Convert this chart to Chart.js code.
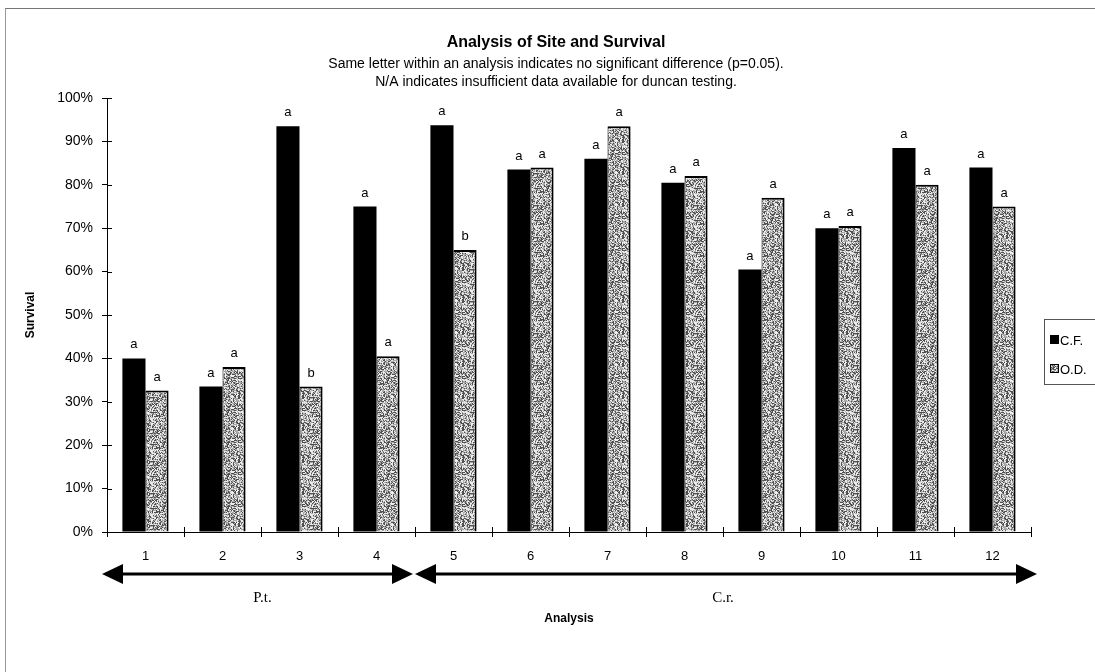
<!DOCTYPE html>
<html>
<head>
<meta charset="utf-8">
<script src="https://cdn.jsdelivr.net/npm/chart.js@4.4.1/dist/chart.umd.min.js"></script>
<style>
    body { margin: 0; background: #fff; }
    #wrap { position: relative; width: 1095px; height: 672px; }
    #frame { position: absolute; left: 5px; top: 8px; right: 0; bottom: 0;
             border-top: 1px solid #777; border-left: 1px solid #999; pointer-events: none; }
    canvas { position: absolute; left: 0; top: 0; }
</style>
</head>
<body>
<div id="wrap">
    <canvas id="survivalChart" width="1095" height="672"></canvas>
    <div id="frame"></div>
</div>
<script>
// Data
const analyses = ['1', '2', '3', '4', '5', '6', '7', '8', '9', '10', '11', '12'];
const cfSurvival = [40, 33.5, 93.5, 75, 93.7, 83.5, 86, 80.5, 60.5, 70, 88.5, 84];
const odSurvival = [32.6, 38, 33.5, 40.5, 65, 84, 93.5, 82, 77, 70.5, 80, 75];
const cfLetters = ['a', 'a', 'a', 'a', 'a', 'a', 'a', 'a', 'a', 'a', 'a', 'a'];
const odLetters = ['a', 'a', 'b', 'a', 'b', 'a', 'a', 'a', 'a', 'a', 'a', 'a'];
const groups = [
    { label: 'P.t.', from: 0, to: 3 },
    { label: 'C.r.', from: 4, to: 11 }
];
const yTicks = [0, 10, 20, 30, 40, 50, 60, 70, 80, 90, 100];

const titleText = 'Analysis of Site and Survival';
const subtitleLines = [
    'Same letter within an analysis indicates no significant difference (p=0.05).',
    'N/A indicates insufficient data available for duncan testing.'
];

const FONT = "'Liberation Sans', Arial, sans-serif";
Chart.defaults.font.family = FONT;
Chart.defaults.color = '#000';

// Grey stipple fill for the O.D. bars (fixed hash, not data)
function makeStipple() {
    const n = 32;
    const c = document.createElement('canvas');
    c.width = n;
    c.height = n;
    const g = c.getContext('2d');
    const img = g.createImageData(n, n);
    for (let y = 0; y < n; y++) {
        for (let x = 0; x < n; x++) {
            let h = (x * 374761393 + y * 668265263) | 0;
            h = Math.imul(h ^ (h >>> 13), 1274126177);
            h = ((h ^ (h >>> 16)) >>> 0) % 100;
            const v = h < 28 ? 80 : (h < 65 ? 168 : 236);
            const i = (y * n + x) * 4;
            img.data[i] = v;
            img.data[i + 1] = v;
            img.data[i + 2] = v;
            img.data[i + 3] = 255;
        }
    }
    g.putImageData(img, 0, 0);
    return g.createPattern(c, 'repeat');
}
const stipple = makeStipple();

// Extra drawing: titles, letters, tick crosses, arrows, legend
const decorations = {
    id: 'decorations',
    afterDatasetsDraw(chart) {
        const ctx = chart.ctx;
        const letterSets = [cfLetters, odLetters];
        ctx.save();
        ctx.font = '13px ' + FONT;
        ctx.fillStyle = '#000';
        ctx.textAlign = 'center';
        ctx.textBaseline = 'bottom';
        chart.data.datasets.forEach((ds, di) => {
            chart.getDatasetMeta(di).data.forEach((bar, i) => {
                ctx.fillText(letterSets[di][i], bar.x, bar.y - 7);
            });
        });
        ctx.restore();
    },
    afterDraw(chart) {
        const ctx = chart.ctx;
        const area = chart.chartArea;
        const x = chart.scales.x;
        const y = chart.scales.y;
        ctx.save();

        // title + subtitle
        const cx = 556;
        ctx.fillStyle = '#000';
        ctx.textAlign = 'center';
        ctx.textBaseline = 'middle';
        ctx.font = 'bold 16px ' + FONT;
        ctx.fillText(titleText, cx, 43);
        ctx.font = '14px ' + FONT;
        ctx.fillText(subtitleLines[0], cx, 64);
        ctx.fillText(subtitleLines[1], cx, 82);

        // inner half of tick marks
        ctx.strokeStyle = '#000';
        ctx.lineWidth = 1;
        ctx.beginPath();
        yTicks.forEach(v => {
            const py = Math.round(y.getPixelForValue(v)) + 0.5;
            ctx.moveTo(area.left, py);
            ctx.lineTo(area.left + 5, py);
        });
        for (let i = 0; i <= analyses.length; i++) {
            const px = Math.round(area.left + (area.right - area.left) * i / analyses.length) + 0.5;
            ctx.moveTo(px, area.bottom);
            ctx.lineTo(px, area.bottom - 5);
        }
        ctx.stroke();

        // group arrows
        const ay = 574;
        const half = (x.getPixelForValue(1) - x.getPixelForValue(0)) / 2;
        groups.forEach((gr, gi) => {
            let x0 = x.getPixelForValue(gr.from) - half;
            let x1 = x.getPixelForValue(gr.to) + half;
            x0 += gi === 0 ? -5 : 0;
            x1 += gi === groups.length - 1 ? 6 : -2;
            drawArrow(ctx, x0, x1, ay);
            ctx.font = '15px "Liberation Serif", "Times New Roman", serif';
            ctx.textBaseline = 'middle';
            ctx.fillText(gr.label, (x0 + x1) / 2 + (gi === 0 ? 5 : -3), 598);
        });

        // legend
        const lx = area.right + 13;
        const ly = 319;
        ctx.strokeStyle = '#555';
        ctx.lineWidth = 1;
        ctx.strokeRect(lx + 0.5, ly + 0.5, 60, 65);
        ctx.font = '13px ' + FONT;
        ctx.textAlign = 'left';
        chart.data.datasets.forEach((ds, di) => {
            const my = ly + 21 + di * 29;
            ctx.fillStyle = ds.backgroundColor;
            ctx.fillRect(lx + 6, my - 5, 9, 9);
            ctx.strokeStyle = '#000';
            ctx.strokeRect(lx + 6.5, my - 4.5, 8, 8);
            ctx.fillStyle = '#000';
            ctx.fillText(ds.label, lx + 16, my + 1);
        });
        ctx.restore();
    }
};

function drawArrow(ctx, x0, x1, yy) {
    const hl = 21;
    const hh = 10;
    ctx.fillStyle = '#000';
    ctx.fillRect(x0 + hl - 1, yy - 1.5, x1 - x0 - 2 * hl + 2, 3);
    ctx.beginPath();
    ctx.moveTo(x0, yy);
    ctx.lineTo(x0 + hl, yy - hh);
    ctx.lineTo(x0 + hl, yy + hh);
    ctx.closePath();
    ctx.fill();
    ctx.beginPath();
    ctx.moveTo(x1, yy);
    ctx.lineTo(x1 - hl, yy - hh);
    ctx.lineTo(x1 - hl, yy + hh);
    ctx.closePath();
    ctx.fill();
}

window.addEventListener('load', () => {
    const ctx = document.getElementById('survivalChart').getContext('2d');
    new Chart(ctx, {
        type: 'bar',
        data: {
            labels: analyses,
            datasets: [
                {
                    label: 'C.F.',
                    data: cfSurvival,
                    backgroundColor: '#000',
                    borderWidth: 0
                },
                {
                    label: 'O.D.',
                    data: odSurvival,
                    backgroundColor: stipple,
                    borderColor: '#000',
                    borderWidth: { top: 2, right: 2, left: 1, bottom: 0 },
                    borderSkipped: 'bottom'
                }
            ]
        },
        options: {
            responsive: false,
            animation: false,
            devicePixelRatio: 1,
            layout: {
                padding: { left: 20, top: 98, right: 64, bottom: 40 }
            },
            datasets: {
                bar: { categoryPercentage: 0.6, barPercentage: 1.0 }
            },
            scales: {
                x: {
                    grid: {
                        display: true,
                        offset: true,
                        drawOnChartArea: false,
                        drawTicks: true,
                        tickLength: 5,
                        color: '#000'
                    },
                    border: { display: true, color: '#000', width: 1 },
                    ticks: { font: { size: 13 }, padding: 12, maxRotation: 0 },
                    title: {
                        display: true,
                        text: 'Analysis',
                        font: { size: 12, weight: 'bold' },
                        padding: { top: 0, bottom: 6 }
                    },
                    afterFit(scale) { scale.height = 100; }
                },
                y: {
                    min: 0,
                    max: 100,
                    afterBuildTicks(scale) {
                        scale.ticks = yTicks.map(v => ({ value: v }));
                    },
                    grid: {
                        display: true,
                        drawOnChartArea: false,
                        drawTicks: true,
                        tickLength: 5,
                        color: '#000'
                    },
                    border: { display: true, color: '#000', width: 1 },
                    ticks: {
                        font: { size: 14 },
                        padding: 9,
                        callback: v => v + '%'
                    },
                    title: {
                        display: true,
                        text: 'Survival',
                        font: { size: 12, weight: 'bold' },
                        padding: { top: 3, bottom: 0 }
                    },
                    afterFit(scale) { scale.width = 87; }
                }
            },
            plugins: {
                legend: { display: false },
                tooltip: { enabled: false }
            }
        },
        plugins: [decorations]
    });
});
</script>
</body>
</html>
